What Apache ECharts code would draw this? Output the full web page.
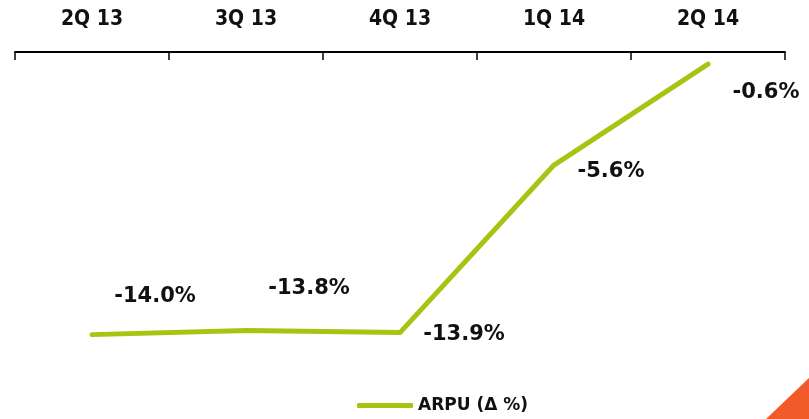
<!DOCTYPE html>
<html>
<head>
<meta charset="utf-8">
<script src="https://cdn.jsdelivr.net/npm/echarts@6/dist/echarts.min.js"></script>
<style>
html, body { margin: 0; padding: 0; background: #fff; }
#chart { width: 809px; height: 419px; }
</style>
</head>
<body>
<div id="chart"></div>
<script>
// quarters and ARPU change (%)
const quarters = ['2Q 13', '3Q 13', '4Q 13', '1Q 14', '2Q 14']
const arpuDelta = [-14.0, -13.8, -13.9, -5.6, -0.6]
const seriesName = 'ARPU (Δ %)'

// where each value label sits relative to its point
const labelOffsets = [[63, -38], [63, -42], [64, 2], [57, 6], [58, 28]]

const chart = echarts.init(document.getElementById('chart'))

chart.setOption({
    animation: false,
    grid: {
        left: 15,
        right: 24,
        top: 52,
        bottom: 44
    },
    legend: {
        bottom: 0,
        left: 352,
        itemWidth: 56,
        itemHeight: 5,
        itemGap: 8,
        icon: 'roundRect',
        textStyle: {
            fontFamily: 'DejaVu Sans',
            fontWeight: 'bold',
            fontSize: 17,
            color: '#111'
        },
        data: [seriesName]
    },
    xAxis: {
        type: 'category',
        position: 'top',
        data: quarters,
        boundaryGap: true,
        axisLine: { lineStyle: { color: '#000', width: 2 } },
        axisTick: { show: true, length: 8, inside: true, lineStyle: { color: '#000', width: 1.5 } },
        axisLabel: {
            margin: 22,
            fontFamily: 'DejaVu Sans Condensed',
            fontWeight: 'bold',
            fontSize: 21,
            color: '#111'
        }
    },
    yAxis: {
        type: 'value',
        min: -16,
        max: 0,
        show: false
    },
    series: [{
        name: seriesName,
        type: 'line',
        data: arpuDelta.map((v, i) => ({
            value: v,
            label: { offset: labelOffsets[i] }
        })),
        showSymbol: true,
        symbol: 'circle',
        symbolSize: 0,
        color: '#a8c412',
        lineStyle: { color: '#a8c412', width: 5, cap: 'round', join: 'round' },
        label: {
            show: true,
            position: 'inside',
            formatter: p => p.value.toFixed(1) + '%',
            fontFamily: 'DejaVu Sans',
            fontWeight: 'bold',
            fontSize: 21,
            color: '#111'
        }
    }],
    graphic: [{
        type: 'polygon',
        shape: { points: [[766, 419], [809, 378], [809, 419]] },
        style: { fill: '#f15a29' }
    }]
})
</script>
</body>
</html>
